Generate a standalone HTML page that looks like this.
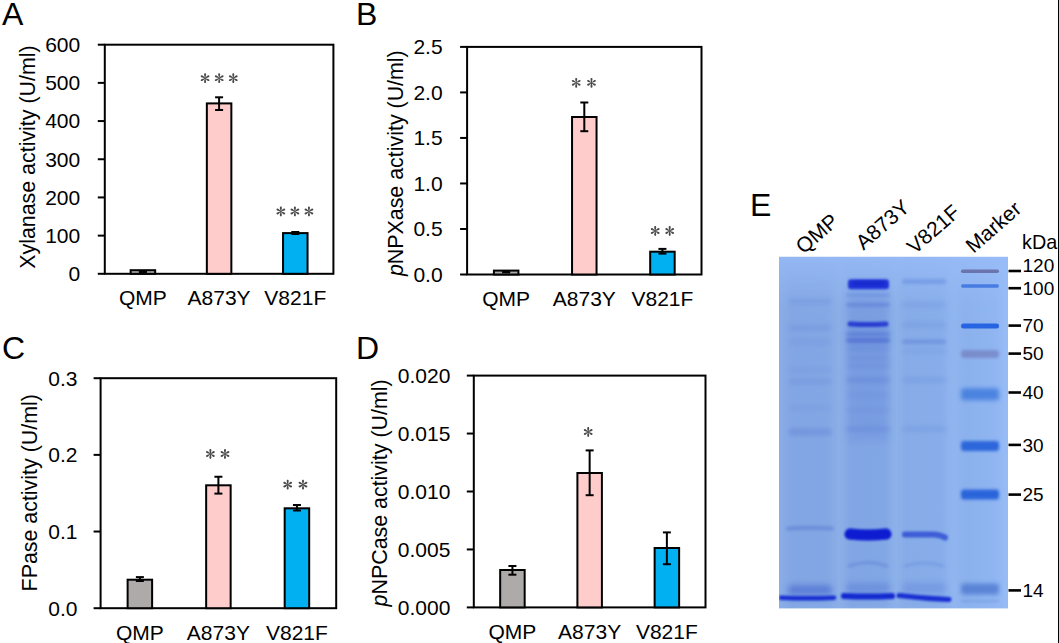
<!DOCTYPE html>
<html><head><meta charset="utf-8"><style>
html,body{margin:0;padding:0;background:#fff;width:1059px;height:643px;overflow:hidden;position:relative}
</style></head><body>
<svg width="1059" height="643" viewBox="0 0 1059 643" style="position:absolute;left:0;top:0">
<rect width="1059" height="643" fill="#fff"/>
<g font-family="'Liberation Sans', sans-serif" font-size="32" fill="#000">
<text x="2" y="24.7">A</text>
<text x="356" y="24.7">B</text>
<text x="2" y="359">C</text>
<text x="356" y="359">D</text>
<text x="750" y="215.5">E</text>
</g>
<g stroke="#000" stroke-width="2.0" fill="none" stroke-linecap="square">
<rect x="104.8" y="44.7" width="228.60" height="229.10"/>
<line x1="97.8" y1="44.70" x2="104.8" y2="44.70" stroke-linecap="butt"/>
<line x1="97.8" y1="82.88" x2="104.8" y2="82.88" stroke-linecap="butt"/>
<line x1="97.8" y1="121.07" x2="104.8" y2="121.07" stroke-linecap="butt"/>
<line x1="97.8" y1="159.25" x2="104.8" y2="159.25" stroke-linecap="butt"/>
<line x1="97.8" y1="197.43" x2="104.8" y2="197.43" stroke-linecap="butt"/>
<line x1="97.8" y1="235.62" x2="104.8" y2="235.62" stroke-linecap="butt"/>
<line x1="97.8" y1="273.80" x2="104.8" y2="273.80" stroke-linecap="butt"/>
</g>
<g font-family="'Liberation Sans', sans-serif" font-size="21" fill="#000" text-anchor="end">
<text x="80.20" y="281.20">0</text>
<text x="80.20" y="243.02">100</text>
<text x="80.20" y="204.83">200</text>
<text x="80.20" y="166.65">300</text>
<text x="80.20" y="128.47">400</text>
<text x="80.20" y="90.28">500</text>
<text x="80.20" y="52.10">600</text>
</g>
<text font-family="'Liberation Sans', sans-serif" font-size="21.4" text-anchor="middle" transform="translate(34.5,157.1) rotate(-90)">Xylanase activity (U/ml)</text>
<rect x="130.65" y="270.20" width="24.5" height="3.60" fill="#AFAAAA" stroke="#000" stroke-width="2"/>
<g stroke="#000" stroke-width="2">
<line x1="142.90" y1="271.00" x2="142.90" y2="272.20"/>
<line x1="138.90" y1="271.00" x2="146.90" y2="271.00"/>
<line x1="138.90" y1="272.20" x2="146.90" y2="272.20"/>
</g>
<text font-family="'Liberation Sans', sans-serif" font-size="21" text-anchor="middle" x="142.90" y="305.30">QMP</text>
<rect x="206.85" y="103.40" width="24.5" height="170.40" fill="#FFCCCC" stroke="#000" stroke-width="2"/>
<g stroke="#000" stroke-width="2">
<line x1="219.10" y1="97.30" x2="219.10" y2="110.00"/>
<line x1="215.10" y1="97.30" x2="223.10" y2="97.30"/>
<line x1="215.10" y1="110.00" x2="223.10" y2="110.00"/>
</g>
<g fill="#4A4A4A">
<path d="M0 -0.35C1.6 -0.5 2.5 -1.0 3.6 -1.0C4.5 -1.0 4.9 -0.55 4.9 0C4.9 0.55 4.5 1.0 3.6 1.0C2.5 1.0 1.6 0.5 0 0.35Z" transform="translate(205.10,78.20) rotate(90)"/><path d="M0 -0.35C1.6 -0.5 2.5 -1.0 3.6 -1.0C4.5 -1.0 4.9 -0.55 4.9 0C4.9 0.55 4.5 1.0 3.6 1.0C2.5 1.0 1.6 0.5 0 0.35Z" transform="translate(205.10,78.20) rotate(30)"/><path d="M0 -0.35C1.6 -0.5 2.5 -1.0 3.6 -1.0C4.5 -1.0 4.9 -0.55 4.9 0C4.9 0.55 4.5 1.0 3.6 1.0C2.5 1.0 1.6 0.5 0 0.35Z" transform="translate(205.10,78.20) rotate(-30)"/><path d="M0 -0.35C1.6 -0.5 2.5 -1.0 3.6 -1.0C4.5 -1.0 4.9 -0.55 4.9 0C4.9 0.55 4.5 1.0 3.6 1.0C2.5 1.0 1.6 0.5 0 0.35Z" transform="translate(205.10,78.20) rotate(-90)"/><path d="M0 -0.35C1.6 -0.5 2.5 -1.0 3.6 -1.0C4.5 -1.0 4.9 -0.55 4.9 0C4.9 0.55 4.5 1.0 3.6 1.0C2.5 1.0 1.6 0.5 0 0.35Z" transform="translate(205.10,78.20) rotate(-150)"/><path d="M0 -0.35C1.6 -0.5 2.5 -1.0 3.6 -1.0C4.5 -1.0 4.9 -0.55 4.9 0C4.9 0.55 4.5 1.0 3.6 1.0C2.5 1.0 1.6 0.5 0 0.35Z" transform="translate(205.10,78.20) rotate(150)"/>
<path d="M0 -0.35C1.6 -0.5 2.5 -1.0 3.6 -1.0C4.5 -1.0 4.9 -0.55 4.9 0C4.9 0.55 4.5 1.0 3.6 1.0C2.5 1.0 1.6 0.5 0 0.35Z" transform="translate(219.20,78.20) rotate(90)"/><path d="M0 -0.35C1.6 -0.5 2.5 -1.0 3.6 -1.0C4.5 -1.0 4.9 -0.55 4.9 0C4.9 0.55 4.5 1.0 3.6 1.0C2.5 1.0 1.6 0.5 0 0.35Z" transform="translate(219.20,78.20) rotate(30)"/><path d="M0 -0.35C1.6 -0.5 2.5 -1.0 3.6 -1.0C4.5 -1.0 4.9 -0.55 4.9 0C4.9 0.55 4.5 1.0 3.6 1.0C2.5 1.0 1.6 0.5 0 0.35Z" transform="translate(219.20,78.20) rotate(-30)"/><path d="M0 -0.35C1.6 -0.5 2.5 -1.0 3.6 -1.0C4.5 -1.0 4.9 -0.55 4.9 0C4.9 0.55 4.5 1.0 3.6 1.0C2.5 1.0 1.6 0.5 0 0.35Z" transform="translate(219.20,78.20) rotate(-90)"/><path d="M0 -0.35C1.6 -0.5 2.5 -1.0 3.6 -1.0C4.5 -1.0 4.9 -0.55 4.9 0C4.9 0.55 4.5 1.0 3.6 1.0C2.5 1.0 1.6 0.5 0 0.35Z" transform="translate(219.20,78.20) rotate(-150)"/><path d="M0 -0.35C1.6 -0.5 2.5 -1.0 3.6 -1.0C4.5 -1.0 4.9 -0.55 4.9 0C4.9 0.55 4.5 1.0 3.6 1.0C2.5 1.0 1.6 0.5 0 0.35Z" transform="translate(219.20,78.20) rotate(150)"/>
<path d="M0 -0.35C1.6 -0.5 2.5 -1.0 3.6 -1.0C4.5 -1.0 4.9 -0.55 4.9 0C4.9 0.55 4.5 1.0 3.6 1.0C2.5 1.0 1.6 0.5 0 0.35Z" transform="translate(233.30,78.20) rotate(90)"/><path d="M0 -0.35C1.6 -0.5 2.5 -1.0 3.6 -1.0C4.5 -1.0 4.9 -0.55 4.9 0C4.9 0.55 4.5 1.0 3.6 1.0C2.5 1.0 1.6 0.5 0 0.35Z" transform="translate(233.30,78.20) rotate(30)"/><path d="M0 -0.35C1.6 -0.5 2.5 -1.0 3.6 -1.0C4.5 -1.0 4.9 -0.55 4.9 0C4.9 0.55 4.5 1.0 3.6 1.0C2.5 1.0 1.6 0.5 0 0.35Z" transform="translate(233.30,78.20) rotate(-30)"/><path d="M0 -0.35C1.6 -0.5 2.5 -1.0 3.6 -1.0C4.5 -1.0 4.9 -0.55 4.9 0C4.9 0.55 4.5 1.0 3.6 1.0C2.5 1.0 1.6 0.5 0 0.35Z" transform="translate(233.30,78.20) rotate(-90)"/><path d="M0 -0.35C1.6 -0.5 2.5 -1.0 3.6 -1.0C4.5 -1.0 4.9 -0.55 4.9 0C4.9 0.55 4.5 1.0 3.6 1.0C2.5 1.0 1.6 0.5 0 0.35Z" transform="translate(233.30,78.20) rotate(-150)"/><path d="M0 -0.35C1.6 -0.5 2.5 -1.0 3.6 -1.0C4.5 -1.0 4.9 -0.55 4.9 0C4.9 0.55 4.5 1.0 3.6 1.0C2.5 1.0 1.6 0.5 0 0.35Z" transform="translate(233.30,78.20) rotate(150)"/>
</g>
<text font-family="'Liberation Sans', sans-serif" font-size="21" text-anchor="middle" x="219.10" y="305.30">A873Y</text>
<rect x="283.05" y="233.10" width="24.5" height="40.70" fill="#00B0F0" stroke="#000" stroke-width="2"/>
<g stroke="#000" stroke-width="2">
<line x1="295.30" y1="232.00" x2="295.30" y2="234.00"/>
<line x1="291.30" y1="232.00" x2="299.30" y2="232.00"/>
<line x1="291.30" y1="234.00" x2="299.30" y2="234.00"/>
</g>
<g fill="#4A4A4A">
<path d="M0 -0.35C1.6 -0.5 2.5 -1.0 3.6 -1.0C4.5 -1.0 4.9 -0.55 4.9 0C4.9 0.55 4.5 1.0 3.6 1.0C2.5 1.0 1.6 0.5 0 0.35Z" transform="translate(280.85,211.50) rotate(90)"/><path d="M0 -0.35C1.6 -0.5 2.5 -1.0 3.6 -1.0C4.5 -1.0 4.9 -0.55 4.9 0C4.9 0.55 4.5 1.0 3.6 1.0C2.5 1.0 1.6 0.5 0 0.35Z" transform="translate(280.85,211.50) rotate(30)"/><path d="M0 -0.35C1.6 -0.5 2.5 -1.0 3.6 -1.0C4.5 -1.0 4.9 -0.55 4.9 0C4.9 0.55 4.5 1.0 3.6 1.0C2.5 1.0 1.6 0.5 0 0.35Z" transform="translate(280.85,211.50) rotate(-30)"/><path d="M0 -0.35C1.6 -0.5 2.5 -1.0 3.6 -1.0C4.5 -1.0 4.9 -0.55 4.9 0C4.9 0.55 4.5 1.0 3.6 1.0C2.5 1.0 1.6 0.5 0 0.35Z" transform="translate(280.85,211.50) rotate(-90)"/><path d="M0 -0.35C1.6 -0.5 2.5 -1.0 3.6 -1.0C4.5 -1.0 4.9 -0.55 4.9 0C4.9 0.55 4.5 1.0 3.6 1.0C2.5 1.0 1.6 0.5 0 0.35Z" transform="translate(280.85,211.50) rotate(-150)"/><path d="M0 -0.35C1.6 -0.5 2.5 -1.0 3.6 -1.0C4.5 -1.0 4.9 -0.55 4.9 0C4.9 0.55 4.5 1.0 3.6 1.0C2.5 1.0 1.6 0.5 0 0.35Z" transform="translate(280.85,211.50) rotate(150)"/>
<path d="M0 -0.35C1.6 -0.5 2.5 -1.0 3.6 -1.0C4.5 -1.0 4.9 -0.55 4.9 0C4.9 0.55 4.5 1.0 3.6 1.0C2.5 1.0 1.6 0.5 0 0.35Z" transform="translate(294.90,211.50) rotate(90)"/><path d="M0 -0.35C1.6 -0.5 2.5 -1.0 3.6 -1.0C4.5 -1.0 4.9 -0.55 4.9 0C4.9 0.55 4.5 1.0 3.6 1.0C2.5 1.0 1.6 0.5 0 0.35Z" transform="translate(294.90,211.50) rotate(30)"/><path d="M0 -0.35C1.6 -0.5 2.5 -1.0 3.6 -1.0C4.5 -1.0 4.9 -0.55 4.9 0C4.9 0.55 4.5 1.0 3.6 1.0C2.5 1.0 1.6 0.5 0 0.35Z" transform="translate(294.90,211.50) rotate(-30)"/><path d="M0 -0.35C1.6 -0.5 2.5 -1.0 3.6 -1.0C4.5 -1.0 4.9 -0.55 4.9 0C4.9 0.55 4.5 1.0 3.6 1.0C2.5 1.0 1.6 0.5 0 0.35Z" transform="translate(294.90,211.50) rotate(-90)"/><path d="M0 -0.35C1.6 -0.5 2.5 -1.0 3.6 -1.0C4.5 -1.0 4.9 -0.55 4.9 0C4.9 0.55 4.5 1.0 3.6 1.0C2.5 1.0 1.6 0.5 0 0.35Z" transform="translate(294.90,211.50) rotate(-150)"/><path d="M0 -0.35C1.6 -0.5 2.5 -1.0 3.6 -1.0C4.5 -1.0 4.9 -0.55 4.9 0C4.9 0.55 4.5 1.0 3.6 1.0C2.5 1.0 1.6 0.5 0 0.35Z" transform="translate(294.90,211.50) rotate(150)"/>
<path d="M0 -0.35C1.6 -0.5 2.5 -1.0 3.6 -1.0C4.5 -1.0 4.9 -0.55 4.9 0C4.9 0.55 4.5 1.0 3.6 1.0C2.5 1.0 1.6 0.5 0 0.35Z" transform="translate(308.95,211.50) rotate(90)"/><path d="M0 -0.35C1.6 -0.5 2.5 -1.0 3.6 -1.0C4.5 -1.0 4.9 -0.55 4.9 0C4.9 0.55 4.5 1.0 3.6 1.0C2.5 1.0 1.6 0.5 0 0.35Z" transform="translate(308.95,211.50) rotate(30)"/><path d="M0 -0.35C1.6 -0.5 2.5 -1.0 3.6 -1.0C4.5 -1.0 4.9 -0.55 4.9 0C4.9 0.55 4.5 1.0 3.6 1.0C2.5 1.0 1.6 0.5 0 0.35Z" transform="translate(308.95,211.50) rotate(-30)"/><path d="M0 -0.35C1.6 -0.5 2.5 -1.0 3.6 -1.0C4.5 -1.0 4.9 -0.55 4.9 0C4.9 0.55 4.5 1.0 3.6 1.0C2.5 1.0 1.6 0.5 0 0.35Z" transform="translate(308.95,211.50) rotate(-90)"/><path d="M0 -0.35C1.6 -0.5 2.5 -1.0 3.6 -1.0C4.5 -1.0 4.9 -0.55 4.9 0C4.9 0.55 4.5 1.0 3.6 1.0C2.5 1.0 1.6 0.5 0 0.35Z" transform="translate(308.95,211.50) rotate(-150)"/><path d="M0 -0.35C1.6 -0.5 2.5 -1.0 3.6 -1.0C4.5 -1.0 4.9 -0.55 4.9 0C4.9 0.55 4.5 1.0 3.6 1.0C2.5 1.0 1.6 0.5 0 0.35Z" transform="translate(308.95,211.50) rotate(150)"/>
</g>
<text font-family="'Liberation Sans', sans-serif" font-size="21" text-anchor="middle" x="295.30" y="305.30">V821F</text>
<g stroke="#000" stroke-width="2.0" fill="none" stroke-linecap="square">
<rect x="467.1" y="46.9" width="234.40" height="227.60"/>
<line x1="460.1" y1="46.90" x2="467.1" y2="46.90" stroke-linecap="butt"/>
<line x1="460.1" y1="92.42" x2="467.1" y2="92.42" stroke-linecap="butt"/>
<line x1="460.1" y1="137.94" x2="467.1" y2="137.94" stroke-linecap="butt"/>
<line x1="460.1" y1="183.46" x2="467.1" y2="183.46" stroke-linecap="butt"/>
<line x1="460.1" y1="228.98" x2="467.1" y2="228.98" stroke-linecap="butt"/>
<line x1="460.1" y1="274.50" x2="467.1" y2="274.50" stroke-linecap="butt"/>
</g>
<g font-family="'Liberation Sans', sans-serif" font-size="21" fill="#000" text-anchor="end">
<text x="442.60" y="281.90">0.0</text>
<text x="442.60" y="236.38">0.5</text>
<text x="442.60" y="190.86">1.0</text>
<text x="442.60" y="145.34">1.5</text>
<text x="442.60" y="99.82">2.0</text>
<text x="442.60" y="54.30">2.5</text>
</g>
<text font-family="'Liberation Sans', sans-serif" font-size="21.4" text-anchor="middle" transform="translate(402.7,163.2) rotate(-90)"><tspan font-style="italic">p</tspan>NPXase activity (U/ml)</text>
<rect x="493.92" y="270.60" width="24.5" height="3.90" fill="#AFAAAA" stroke="#000" stroke-width="2"/>
<g stroke="#000" stroke-width="2">
<line x1="506.17" y1="271.40" x2="506.17" y2="272.40"/>
<line x1="502.17" y1="271.40" x2="510.17" y2="271.40"/>
<line x1="502.17" y1="272.40" x2="510.17" y2="272.40"/>
</g>
<text font-family="'Liberation Sans', sans-serif" font-size="21" text-anchor="middle" x="506.17" y="306.00">QMP</text>
<rect x="572.05" y="117.00" width="24.5" height="157.50" fill="#FFCCCC" stroke="#000" stroke-width="2"/>
<g stroke="#000" stroke-width="2">
<line x1="584.30" y1="102.50" x2="584.30" y2="131.20"/>
<line x1="580.30" y1="102.50" x2="588.30" y2="102.50"/>
<line x1="580.30" y1="131.20" x2="588.30" y2="131.20"/>
</g>
<g fill="#4A4A4A">
<path d="M0 -0.35C1.6 -0.5 2.5 -1.0 3.6 -1.0C4.5 -1.0 4.9 -0.55 4.9 0C4.9 0.55 4.5 1.0 3.6 1.0C2.5 1.0 1.6 0.5 0 0.35Z" transform="translate(576.20,82.80) rotate(90)"/><path d="M0 -0.35C1.6 -0.5 2.5 -1.0 3.6 -1.0C4.5 -1.0 4.9 -0.55 4.9 0C4.9 0.55 4.5 1.0 3.6 1.0C2.5 1.0 1.6 0.5 0 0.35Z" transform="translate(576.20,82.80) rotate(30)"/><path d="M0 -0.35C1.6 -0.5 2.5 -1.0 3.6 -1.0C4.5 -1.0 4.9 -0.55 4.9 0C4.9 0.55 4.5 1.0 3.6 1.0C2.5 1.0 1.6 0.5 0 0.35Z" transform="translate(576.20,82.80) rotate(-30)"/><path d="M0 -0.35C1.6 -0.5 2.5 -1.0 3.6 -1.0C4.5 -1.0 4.9 -0.55 4.9 0C4.9 0.55 4.5 1.0 3.6 1.0C2.5 1.0 1.6 0.5 0 0.35Z" transform="translate(576.20,82.80) rotate(-90)"/><path d="M0 -0.35C1.6 -0.5 2.5 -1.0 3.6 -1.0C4.5 -1.0 4.9 -0.55 4.9 0C4.9 0.55 4.5 1.0 3.6 1.0C2.5 1.0 1.6 0.5 0 0.35Z" transform="translate(576.20,82.80) rotate(-150)"/><path d="M0 -0.35C1.6 -0.5 2.5 -1.0 3.6 -1.0C4.5 -1.0 4.9 -0.55 4.9 0C4.9 0.55 4.5 1.0 3.6 1.0C2.5 1.0 1.6 0.5 0 0.35Z" transform="translate(576.20,82.80) rotate(150)"/>
<path d="M0 -0.35C1.6 -0.5 2.5 -1.0 3.6 -1.0C4.5 -1.0 4.9 -0.55 4.9 0C4.9 0.55 4.5 1.0 3.6 1.0C2.5 1.0 1.6 0.5 0 0.35Z" transform="translate(591.50,82.80) rotate(90)"/><path d="M0 -0.35C1.6 -0.5 2.5 -1.0 3.6 -1.0C4.5 -1.0 4.9 -0.55 4.9 0C4.9 0.55 4.5 1.0 3.6 1.0C2.5 1.0 1.6 0.5 0 0.35Z" transform="translate(591.50,82.80) rotate(30)"/><path d="M0 -0.35C1.6 -0.5 2.5 -1.0 3.6 -1.0C4.5 -1.0 4.9 -0.55 4.9 0C4.9 0.55 4.5 1.0 3.6 1.0C2.5 1.0 1.6 0.5 0 0.35Z" transform="translate(591.50,82.80) rotate(-30)"/><path d="M0 -0.35C1.6 -0.5 2.5 -1.0 3.6 -1.0C4.5 -1.0 4.9 -0.55 4.9 0C4.9 0.55 4.5 1.0 3.6 1.0C2.5 1.0 1.6 0.5 0 0.35Z" transform="translate(591.50,82.80) rotate(-90)"/><path d="M0 -0.35C1.6 -0.5 2.5 -1.0 3.6 -1.0C4.5 -1.0 4.9 -0.55 4.9 0C4.9 0.55 4.5 1.0 3.6 1.0C2.5 1.0 1.6 0.5 0 0.35Z" transform="translate(591.50,82.80) rotate(-150)"/><path d="M0 -0.35C1.6 -0.5 2.5 -1.0 3.6 -1.0C4.5 -1.0 4.9 -0.55 4.9 0C4.9 0.55 4.5 1.0 3.6 1.0C2.5 1.0 1.6 0.5 0 0.35Z" transform="translate(591.50,82.80) rotate(150)"/>
</g>
<text font-family="'Liberation Sans', sans-serif" font-size="21" text-anchor="middle" x="584.30" y="306.00">A873Y</text>
<rect x="650.18" y="251.70" width="24.5" height="22.80" fill="#00B0F0" stroke="#000" stroke-width="2"/>
<g stroke="#000" stroke-width="2">
<line x1="662.43" y1="248.90" x2="662.43" y2="253.60"/>
<line x1="658.43" y1="248.90" x2="666.43" y2="248.90"/>
<line x1="658.43" y1="253.60" x2="666.43" y2="253.60"/>
</g>
<g fill="#4A4A4A">
<path d="M0 -0.35C1.6 -0.5 2.5 -1.0 3.6 -1.0C4.5 -1.0 4.9 -0.55 4.9 0C4.9 0.55 4.5 1.0 3.6 1.0C2.5 1.0 1.6 0.5 0 0.35Z" transform="translate(655.20,231.00) rotate(90)"/><path d="M0 -0.35C1.6 -0.5 2.5 -1.0 3.6 -1.0C4.5 -1.0 4.9 -0.55 4.9 0C4.9 0.55 4.5 1.0 3.6 1.0C2.5 1.0 1.6 0.5 0 0.35Z" transform="translate(655.20,231.00) rotate(30)"/><path d="M0 -0.35C1.6 -0.5 2.5 -1.0 3.6 -1.0C4.5 -1.0 4.9 -0.55 4.9 0C4.9 0.55 4.5 1.0 3.6 1.0C2.5 1.0 1.6 0.5 0 0.35Z" transform="translate(655.20,231.00) rotate(-30)"/><path d="M0 -0.35C1.6 -0.5 2.5 -1.0 3.6 -1.0C4.5 -1.0 4.9 -0.55 4.9 0C4.9 0.55 4.5 1.0 3.6 1.0C2.5 1.0 1.6 0.5 0 0.35Z" transform="translate(655.20,231.00) rotate(-90)"/><path d="M0 -0.35C1.6 -0.5 2.5 -1.0 3.6 -1.0C4.5 -1.0 4.9 -0.55 4.9 0C4.9 0.55 4.5 1.0 3.6 1.0C2.5 1.0 1.6 0.5 0 0.35Z" transform="translate(655.20,231.00) rotate(-150)"/><path d="M0 -0.35C1.6 -0.5 2.5 -1.0 3.6 -1.0C4.5 -1.0 4.9 -0.55 4.9 0C4.9 0.55 4.5 1.0 3.6 1.0C2.5 1.0 1.6 0.5 0 0.35Z" transform="translate(655.20,231.00) rotate(150)"/>
<path d="M0 -0.35C1.6 -0.5 2.5 -1.0 3.6 -1.0C4.5 -1.0 4.9 -0.55 4.9 0C4.9 0.55 4.5 1.0 3.6 1.0C2.5 1.0 1.6 0.5 0 0.35Z" transform="translate(669.70,231.00) rotate(90)"/><path d="M0 -0.35C1.6 -0.5 2.5 -1.0 3.6 -1.0C4.5 -1.0 4.9 -0.55 4.9 0C4.9 0.55 4.5 1.0 3.6 1.0C2.5 1.0 1.6 0.5 0 0.35Z" transform="translate(669.70,231.00) rotate(30)"/><path d="M0 -0.35C1.6 -0.5 2.5 -1.0 3.6 -1.0C4.5 -1.0 4.9 -0.55 4.9 0C4.9 0.55 4.5 1.0 3.6 1.0C2.5 1.0 1.6 0.5 0 0.35Z" transform="translate(669.70,231.00) rotate(-30)"/><path d="M0 -0.35C1.6 -0.5 2.5 -1.0 3.6 -1.0C4.5 -1.0 4.9 -0.55 4.9 0C4.9 0.55 4.5 1.0 3.6 1.0C2.5 1.0 1.6 0.5 0 0.35Z" transform="translate(669.70,231.00) rotate(-90)"/><path d="M0 -0.35C1.6 -0.5 2.5 -1.0 3.6 -1.0C4.5 -1.0 4.9 -0.55 4.9 0C4.9 0.55 4.5 1.0 3.6 1.0C2.5 1.0 1.6 0.5 0 0.35Z" transform="translate(669.70,231.00) rotate(-150)"/><path d="M0 -0.35C1.6 -0.5 2.5 -1.0 3.6 -1.0C4.5 -1.0 4.9 -0.55 4.9 0C4.9 0.55 4.5 1.0 3.6 1.0C2.5 1.0 1.6 0.5 0 0.35Z" transform="translate(669.70,231.00) rotate(150)"/>
</g>
<text font-family="'Liberation Sans', sans-serif" font-size="21" text-anchor="middle" x="662.43" y="306.00">V821F</text>
<g stroke="#000" stroke-width="2.0" fill="none" stroke-linecap="square">
<rect x="100.6" y="378.2" width="235.60" height="230.00"/>
<line x1="93.6" y1="378.20" x2="100.6" y2="378.20" stroke-linecap="butt"/>
<line x1="93.6" y1="454.87" x2="100.6" y2="454.87" stroke-linecap="butt"/>
<line x1="93.6" y1="531.53" x2="100.6" y2="531.53" stroke-linecap="butt"/>
<line x1="93.6" y1="608.20" x2="100.6" y2="608.20" stroke-linecap="butt"/>
</g>
<g font-family="'Liberation Sans', sans-serif" font-size="21" fill="#000" text-anchor="end">
<text x="77.50" y="615.60">0.0</text>
<text x="77.50" y="538.93">0.1</text>
<text x="77.50" y="462.27">0.2</text>
<text x="77.50" y="385.60">0.3</text>
</g>
<text font-family="'Liberation Sans', sans-serif" font-size="21.4" text-anchor="middle" transform="translate(37.2,492.8) rotate(-90)">FPase activity (U/ml)</text>
<rect x="127.62" y="579.70" width="24.5" height="28.50" fill="#AFAAAA" stroke="#000" stroke-width="2"/>
<g stroke="#000" stroke-width="2">
<line x1="139.87" y1="577.10" x2="139.87" y2="581.00"/>
<line x1="135.87" y1="577.10" x2="143.87" y2="577.10"/>
<line x1="135.87" y1="581.00" x2="143.87" y2="581.00"/>
</g>
<text font-family="'Liberation Sans', sans-serif" font-size="21" text-anchor="middle" x="139.87" y="639.70">QMP</text>
<rect x="206.15" y="485.30" width="24.5" height="122.90" fill="#FFCCCC" stroke="#000" stroke-width="2"/>
<g stroke="#000" stroke-width="2">
<line x1="218.40" y1="476.75" x2="218.40" y2="493.60"/>
<line x1="214.40" y1="476.75" x2="222.40" y2="476.75"/>
<line x1="214.40" y1="493.60" x2="222.40" y2="493.60"/>
</g>
<g fill="#4A4A4A">
<path d="M0 -0.35C1.6 -0.5 2.5 -1.0 3.6 -1.0C4.5 -1.0 4.9 -0.55 4.9 0C4.9 0.55 4.5 1.0 3.6 1.0C2.5 1.0 1.6 0.5 0 0.35Z" transform="translate(210.40,454.00) rotate(90)"/><path d="M0 -0.35C1.6 -0.5 2.5 -1.0 3.6 -1.0C4.5 -1.0 4.9 -0.55 4.9 0C4.9 0.55 4.5 1.0 3.6 1.0C2.5 1.0 1.6 0.5 0 0.35Z" transform="translate(210.40,454.00) rotate(30)"/><path d="M0 -0.35C1.6 -0.5 2.5 -1.0 3.6 -1.0C4.5 -1.0 4.9 -0.55 4.9 0C4.9 0.55 4.5 1.0 3.6 1.0C2.5 1.0 1.6 0.5 0 0.35Z" transform="translate(210.40,454.00) rotate(-30)"/><path d="M0 -0.35C1.6 -0.5 2.5 -1.0 3.6 -1.0C4.5 -1.0 4.9 -0.55 4.9 0C4.9 0.55 4.5 1.0 3.6 1.0C2.5 1.0 1.6 0.5 0 0.35Z" transform="translate(210.40,454.00) rotate(-90)"/><path d="M0 -0.35C1.6 -0.5 2.5 -1.0 3.6 -1.0C4.5 -1.0 4.9 -0.55 4.9 0C4.9 0.55 4.5 1.0 3.6 1.0C2.5 1.0 1.6 0.5 0 0.35Z" transform="translate(210.40,454.00) rotate(-150)"/><path d="M0 -0.35C1.6 -0.5 2.5 -1.0 3.6 -1.0C4.5 -1.0 4.9 -0.55 4.9 0C4.9 0.55 4.5 1.0 3.6 1.0C2.5 1.0 1.6 0.5 0 0.35Z" transform="translate(210.40,454.00) rotate(150)"/>
<path d="M0 -0.35C1.6 -0.5 2.5 -1.0 3.6 -1.0C4.5 -1.0 4.9 -0.55 4.9 0C4.9 0.55 4.5 1.0 3.6 1.0C2.5 1.0 1.6 0.5 0 0.35Z" transform="translate(225.00,454.00) rotate(90)"/><path d="M0 -0.35C1.6 -0.5 2.5 -1.0 3.6 -1.0C4.5 -1.0 4.9 -0.55 4.9 0C4.9 0.55 4.5 1.0 3.6 1.0C2.5 1.0 1.6 0.5 0 0.35Z" transform="translate(225.00,454.00) rotate(30)"/><path d="M0 -0.35C1.6 -0.5 2.5 -1.0 3.6 -1.0C4.5 -1.0 4.9 -0.55 4.9 0C4.9 0.55 4.5 1.0 3.6 1.0C2.5 1.0 1.6 0.5 0 0.35Z" transform="translate(225.00,454.00) rotate(-30)"/><path d="M0 -0.35C1.6 -0.5 2.5 -1.0 3.6 -1.0C4.5 -1.0 4.9 -0.55 4.9 0C4.9 0.55 4.5 1.0 3.6 1.0C2.5 1.0 1.6 0.5 0 0.35Z" transform="translate(225.00,454.00) rotate(-90)"/><path d="M0 -0.35C1.6 -0.5 2.5 -1.0 3.6 -1.0C4.5 -1.0 4.9 -0.55 4.9 0C4.9 0.55 4.5 1.0 3.6 1.0C2.5 1.0 1.6 0.5 0 0.35Z" transform="translate(225.00,454.00) rotate(-150)"/><path d="M0 -0.35C1.6 -0.5 2.5 -1.0 3.6 -1.0C4.5 -1.0 4.9 -0.55 4.9 0C4.9 0.55 4.5 1.0 3.6 1.0C2.5 1.0 1.6 0.5 0 0.35Z" transform="translate(225.00,454.00) rotate(150)"/>
</g>
<text font-family="'Liberation Sans', sans-serif" font-size="21" text-anchor="middle" x="218.40" y="639.70">A873Y</text>
<rect x="284.68" y="508.30" width="24.5" height="99.90" fill="#00B0F0" stroke="#000" stroke-width="2"/>
<g stroke="#000" stroke-width="2">
<line x1="296.93" y1="505.00" x2="296.93" y2="510.50"/>
<line x1="292.93" y1="505.00" x2="300.93" y2="505.00"/>
<line x1="292.93" y1="510.50" x2="300.93" y2="510.50"/>
</g>
<g fill="#4A4A4A">
<path d="M0 -0.35C1.6 -0.5 2.5 -1.0 3.6 -1.0C4.5 -1.0 4.9 -0.55 4.9 0C4.9 0.55 4.5 1.0 3.6 1.0C2.5 1.0 1.6 0.5 0 0.35Z" transform="translate(287.70,484.65) rotate(90)"/><path d="M0 -0.35C1.6 -0.5 2.5 -1.0 3.6 -1.0C4.5 -1.0 4.9 -0.55 4.9 0C4.9 0.55 4.5 1.0 3.6 1.0C2.5 1.0 1.6 0.5 0 0.35Z" transform="translate(287.70,484.65) rotate(30)"/><path d="M0 -0.35C1.6 -0.5 2.5 -1.0 3.6 -1.0C4.5 -1.0 4.9 -0.55 4.9 0C4.9 0.55 4.5 1.0 3.6 1.0C2.5 1.0 1.6 0.5 0 0.35Z" transform="translate(287.70,484.65) rotate(-30)"/><path d="M0 -0.35C1.6 -0.5 2.5 -1.0 3.6 -1.0C4.5 -1.0 4.9 -0.55 4.9 0C4.9 0.55 4.5 1.0 3.6 1.0C2.5 1.0 1.6 0.5 0 0.35Z" transform="translate(287.70,484.65) rotate(-90)"/><path d="M0 -0.35C1.6 -0.5 2.5 -1.0 3.6 -1.0C4.5 -1.0 4.9 -0.55 4.9 0C4.9 0.55 4.5 1.0 3.6 1.0C2.5 1.0 1.6 0.5 0 0.35Z" transform="translate(287.70,484.65) rotate(-150)"/><path d="M0 -0.35C1.6 -0.5 2.5 -1.0 3.6 -1.0C4.5 -1.0 4.9 -0.55 4.9 0C4.9 0.55 4.5 1.0 3.6 1.0C2.5 1.0 1.6 0.5 0 0.35Z" transform="translate(287.70,484.65) rotate(150)"/>
<path d="M0 -0.35C1.6 -0.5 2.5 -1.0 3.6 -1.0C4.5 -1.0 4.9 -0.55 4.9 0C4.9 0.55 4.5 1.0 3.6 1.0C2.5 1.0 1.6 0.5 0 0.35Z" transform="translate(303.00,484.65) rotate(90)"/><path d="M0 -0.35C1.6 -0.5 2.5 -1.0 3.6 -1.0C4.5 -1.0 4.9 -0.55 4.9 0C4.9 0.55 4.5 1.0 3.6 1.0C2.5 1.0 1.6 0.5 0 0.35Z" transform="translate(303.00,484.65) rotate(30)"/><path d="M0 -0.35C1.6 -0.5 2.5 -1.0 3.6 -1.0C4.5 -1.0 4.9 -0.55 4.9 0C4.9 0.55 4.5 1.0 3.6 1.0C2.5 1.0 1.6 0.5 0 0.35Z" transform="translate(303.00,484.65) rotate(-30)"/><path d="M0 -0.35C1.6 -0.5 2.5 -1.0 3.6 -1.0C4.5 -1.0 4.9 -0.55 4.9 0C4.9 0.55 4.5 1.0 3.6 1.0C2.5 1.0 1.6 0.5 0 0.35Z" transform="translate(303.00,484.65) rotate(-90)"/><path d="M0 -0.35C1.6 -0.5 2.5 -1.0 3.6 -1.0C4.5 -1.0 4.9 -0.55 4.9 0C4.9 0.55 4.5 1.0 3.6 1.0C2.5 1.0 1.6 0.5 0 0.35Z" transform="translate(303.00,484.65) rotate(-150)"/><path d="M0 -0.35C1.6 -0.5 2.5 -1.0 3.6 -1.0C4.5 -1.0 4.9 -0.55 4.9 0C4.9 0.55 4.5 1.0 3.6 1.0C2.5 1.0 1.6 0.5 0 0.35Z" transform="translate(303.00,484.65) rotate(150)"/>
</g>
<text font-family="'Liberation Sans', sans-serif" font-size="21" text-anchor="middle" x="296.93" y="639.70">V821F</text>
<g stroke="#000" stroke-width="2.0" fill="none" stroke-linecap="square">
<rect x="473.8" y="375.6" width="231.70" height="231.80"/>
<line x1="466.8" y1="375.60" x2="473.8" y2="375.60" stroke-linecap="butt"/>
<line x1="466.8" y1="433.55" x2="473.8" y2="433.55" stroke-linecap="butt"/>
<line x1="466.8" y1="491.50" x2="473.8" y2="491.50" stroke-linecap="butt"/>
<line x1="466.8" y1="549.45" x2="473.8" y2="549.45" stroke-linecap="butt"/>
<line x1="466.8" y1="607.40" x2="473.8" y2="607.40" stroke-linecap="butt"/>
</g>
<g font-family="'Liberation Sans', sans-serif" font-size="21" fill="#000" text-anchor="end">
<text x="450.40" y="614.80">0.000</text>
<text x="450.40" y="556.85">0.005</text>
<text x="450.40" y="498.90">0.010</text>
<text x="450.40" y="440.95">0.015</text>
<text x="450.40" y="383.00">0.020</text>
</g>
<text font-family="'Liberation Sans', sans-serif" font-size="21.4" text-anchor="middle" transform="translate(387.2,492.9) rotate(-90)"><tspan font-style="italic">p</tspan>NPCase activity (U/ml)</text>
<rect x="500.17" y="570.00" width="24.5" height="37.40" fill="#AFAAAA" stroke="#000" stroke-width="2"/>
<g stroke="#000" stroke-width="2">
<line x1="512.42" y1="566.00" x2="512.42" y2="574.70"/>
<line x1="508.42" y1="566.00" x2="516.42" y2="566.00"/>
<line x1="508.42" y1="574.70" x2="516.42" y2="574.70"/>
</g>
<text font-family="'Liberation Sans', sans-serif" font-size="21" text-anchor="middle" x="512.42" y="638.90">QMP</text>
<rect x="577.40" y="473.00" width="24.5" height="134.40" fill="#FFCCCC" stroke="#000" stroke-width="2"/>
<g stroke="#000" stroke-width="2">
<line x1="589.65" y1="450.40" x2="589.65" y2="495.20"/>
<line x1="585.65" y1="450.40" x2="593.65" y2="450.40"/>
<line x1="585.65" y1="495.20" x2="593.65" y2="495.20"/>
</g>
<g fill="#4A4A4A">
<path d="M0 -0.35C1.6 -0.5 2.5 -1.0 3.6 -1.0C4.5 -1.0 4.9 -0.55 4.9 0C4.9 0.55 4.5 1.0 3.6 1.0C2.5 1.0 1.6 0.5 0 0.35Z" transform="translate(588.20,432.00) rotate(90)"/><path d="M0 -0.35C1.6 -0.5 2.5 -1.0 3.6 -1.0C4.5 -1.0 4.9 -0.55 4.9 0C4.9 0.55 4.5 1.0 3.6 1.0C2.5 1.0 1.6 0.5 0 0.35Z" transform="translate(588.20,432.00) rotate(30)"/><path d="M0 -0.35C1.6 -0.5 2.5 -1.0 3.6 -1.0C4.5 -1.0 4.9 -0.55 4.9 0C4.9 0.55 4.5 1.0 3.6 1.0C2.5 1.0 1.6 0.5 0 0.35Z" transform="translate(588.20,432.00) rotate(-30)"/><path d="M0 -0.35C1.6 -0.5 2.5 -1.0 3.6 -1.0C4.5 -1.0 4.9 -0.55 4.9 0C4.9 0.55 4.5 1.0 3.6 1.0C2.5 1.0 1.6 0.5 0 0.35Z" transform="translate(588.20,432.00) rotate(-90)"/><path d="M0 -0.35C1.6 -0.5 2.5 -1.0 3.6 -1.0C4.5 -1.0 4.9 -0.55 4.9 0C4.9 0.55 4.5 1.0 3.6 1.0C2.5 1.0 1.6 0.5 0 0.35Z" transform="translate(588.20,432.00) rotate(-150)"/><path d="M0 -0.35C1.6 -0.5 2.5 -1.0 3.6 -1.0C4.5 -1.0 4.9 -0.55 4.9 0C4.9 0.55 4.5 1.0 3.6 1.0C2.5 1.0 1.6 0.5 0 0.35Z" transform="translate(588.20,432.00) rotate(150)"/>
</g>
<text font-family="'Liberation Sans', sans-serif" font-size="21" text-anchor="middle" x="589.65" y="638.90">A873Y</text>
<rect x="654.63" y="548.00" width="24.5" height="59.40" fill="#00B0F0" stroke="#000" stroke-width="2"/>
<g stroke="#000" stroke-width="2">
<line x1="666.88" y1="532.40" x2="666.88" y2="564.20"/>
<line x1="662.88" y1="532.40" x2="670.88" y2="532.40"/>
<line x1="662.88" y1="564.20" x2="670.88" y2="564.20"/>
</g>
<text font-family="'Liberation Sans', sans-serif" font-size="21" text-anchor="middle" x="666.88" y="638.90">V821F</text>
<defs>
<filter id="b05" filterUnits="userSpaceOnUse" x="0" y="0" width="1059" height="643"><feGaussianBlur stdDeviation="0.6"/></filter>
<filter id="b1" filterUnits="userSpaceOnUse" x="0" y="0" width="1059" height="643"><feGaussianBlur stdDeviation="1.0"/></filter>
<filter id="b15" filterUnits="userSpaceOnUse" x="0" y="0" width="1059" height="643"><feGaussianBlur stdDeviation="1.5"/></filter>
<filter id="b2" filterUnits="userSpaceOnUse" x="0" y="0" width="1059" height="643"><feGaussianBlur stdDeviation="2.0"/></filter>
<filter id="b3" filterUnits="userSpaceOnUse" x="0" y="0" width="1059" height="643"><feGaussianBlur stdDeviation="3.0"/></filter>
<filter id="b4" filterUnits="userSpaceOnUse" x="0" y="0" width="1059" height="643"><feGaussianBlur stdDeviation="4.0"/></filter>
<linearGradient id="gbg" x1="0" y1="0" x2="1" y2="0"><stop offset="0" stop-color="#89ACE6"/><stop offset="0.45" stop-color="#8CB0E8"/><stop offset="0.8" stop-color="#90B5EF"/><stop offset="1" stop-color="#96BBF5"/></linearGradient>
<linearGradient id="lanet" x1="0" y1="0" x2="0" y2="1"><stop offset="0" stop-color="#4670D0" stop-opacity="0"/><stop offset="0.08" stop-color="#4670D0" stop-opacity="0.6"/><stop offset="0.2" stop-color="#4670D0" stop-opacity="1"/><stop offset="1" stop-color="#4670D0" stop-opacity="1"/></linearGradient>
<linearGradient id="topl" x1="0" y1="0" x2="0" y2="1"><stop offset="0" stop-color="#98BCF8" stop-opacity="0.7"/><stop offset="0.5" stop-color="#98BCF8" stop-opacity="0.35"/><stop offset="1" stop-color="#98BCF8" stop-opacity="0"/></linearGradient>
<clipPath id="gclip"><rect x="779.0" y="256.8" width="229.0" height="351.59999999999997"/></clipPath>
</defs>
<rect x="779.0" y="256.8" width="229.0" height="351.59999999999997" fill="url(#gbg)"/>
<g clip-path="url(#gclip)">
<rect x="788" y="256.8" width="44" height="351.59999999999997" fill="url(#lanet)" opacity="0.1" filter="url(#b3)"/>
<rect x="846" y="256.8" width="44" height="351.59999999999997" fill="url(#lanet)" opacity="0.13" filter="url(#b3)"/>
<rect x="902" y="256.8" width="44" height="351.59999999999997" fill="url(#lanet)" opacity="0.09" filter="url(#b3)"/>
<rect x="961" y="256.8" width="38" height="351.59999999999997" fill="url(#lanet)" opacity="0.05" filter="url(#b3)"/>
<rect x="848" y="292" width="40" height="150" fill="#3A58C8" opacity="0.12" filter="url(#b4)"/>
<rect x="779.0" y="256.8" width="229.0" height="50" fill="url(#topl)"/>
<rect x="961" y="269.6" width="38" height="3.5" rx="1.75" fill="#5A5890" opacity="0.7" filter="url(#b05)"/>
<rect x="961" y="284.2" width="38" height="3.5" rx="1.75" fill="#2F6ADC" opacity="0.75" filter="url(#b05)"/>
<rect x="961" y="323.5" width="38" height="5" rx="2.5" fill="#1C5CE0" opacity="0.9" filter="url(#b05)"/>
<rect x="961" y="350.0" width="38" height="8" rx="3" fill="#6C70B0" opacity="0.55" filter="url(#b15)"/>
<rect x="961" y="388.2" width="38" height="12" rx="3" fill="#3A78DC" opacity="0.8" filter="url(#b2)"/>
<rect x="961" y="441.0" width="38" height="10" rx="3" fill="#1E5AD8" opacity="0.85" filter="url(#b15)"/>
<rect x="961" y="489.4" width="38" height="10" rx="3" fill="#1E5AD8" opacity="0.88" filter="url(#b15)"/>
<rect x="961" y="583.5" width="38" height="11" rx="3" fill="#3A68C8" opacity="0.62" filter="url(#b2)"/>
<rect x="961" y="600.0" width="38" height="2" rx="1.0" fill="#5A80D0" opacity="0.3" filter="url(#b1)"/>
<rect x="848" y="279.3" width="41" height="10" rx="3" fill="#1A2ED8" opacity="0.95" filter="url(#b1)"/>
<rect x="852" y="281.0" width="33" height="5" rx="2.5" fill="#1020C8" opacity="0.5" filter="url(#b1)"/>
<rect x="846" y="293.5" width="44" height="3" rx="1.5" fill="#3050C8" opacity="0.2" filter="url(#b15)"/>
<rect x="846" y="302.7" width="44" height="4" rx="2.0" fill="#3050C8" opacity="0.25" filter="url(#b15)"/>
<path d="M850 324 Q868.0 325 886 324" stroke="#1A2ED0" stroke-width="5" fill="none" stroke-linecap="round" opacity="0.85" filter="url(#b1)"/>
<rect x="846" y="332.5" width="44" height="3" rx="1.5" fill="#3050C8" opacity="0.25" filter="url(#b15)"/>
<rect x="846" y="338.1" width="44" height="5" rx="2.5" fill="#2840C0" opacity="0.3" filter="url(#b15)"/>
<rect x="846" y="330.0" width="44" height="14" rx="3" fill="#3050C8" opacity="0.15" filter="url(#b3)"/>
<rect x="846" y="346.5" width="44" height="5" rx="2.5" fill="#3A58C8" opacity="0.16" filter="url(#b2)"/>
<rect x="846" y="355.5" width="44" height="5" rx="2.5" fill="#3A58C8" opacity="0.12" filter="url(#b2)"/>
<rect x="846" y="363.5" width="44" height="5" rx="2.5" fill="#3A58C8" opacity="0.12" filter="url(#b2)"/>
<rect x="846" y="377.5" width="44" height="5" rx="2.5" fill="#3A58C8" opacity="0.2" filter="url(#b2)"/>
<rect x="846" y="392.5" width="44" height="5" rx="2.5" fill="#3A58C8" opacity="0.08" filter="url(#b2)"/>
<rect x="846" y="407.5" width="44" height="5" rx="2.5" fill="#3A58C8" opacity="0.07" filter="url(#b2)"/>
<rect x="846" y="426.5" width="44" height="5" rx="2.5" fill="#3A58C8" opacity="0.16" filter="url(#b2)"/>
<path d="M850 534 Q868.0 536 886 534" stroke="#0A1CD0" stroke-width="11" fill="none" stroke-linecap="round" opacity="1.0" filter="url(#b1)"/>
<path d="M849 566 Q868.0 559 887 566" stroke="#4060C8" stroke-width="3" fill="none" stroke-linecap="round" opacity="0.3" filter="url(#b15)"/>
<path d="M844 596 Q868.0 597 892 596" stroke="#0A24D0" stroke-width="6" fill="none" stroke-linecap="round" opacity="0.95" filter="url(#b1)"/>
<rect x="846" y="583.0" width="44" height="10" rx="3" fill="#3050C8" opacity="0.25" filter="url(#b3)"/>
<rect x="902" y="279.0" width="44" height="5" rx="2.5" fill="#5078D8" opacity="0.35" filter="url(#b15)"/>
<rect x="902" y="301.9" width="44" height="5" rx="2.5" fill="#4060C8" opacity="0.12" filter="url(#b2)"/>
<rect x="902" y="322.5" width="44" height="5" rx="2.5" fill="#4060C8" opacity="0.12" filter="url(#b2)"/>
<rect x="902" y="348.5" width="44" height="5" rx="2.5" fill="#4060C8" opacity="0.08" filter="url(#b2)"/>
<rect x="902" y="377.5" width="44" height="5" rx="2.5" fill="#4060C8" opacity="0.14" filter="url(#b2)"/>
<rect x="902" y="426.5" width="44" height="5" rx="2.5" fill="#4060C8" opacity="0.14" filter="url(#b2)"/>
<rect x="902" y="339.2" width="44" height="5" rx="2.5" fill="#3050C0" opacity="0.22" filter="url(#b15)"/>
<path d="M905 534.5 L934 534.5 Q941 535 945 537.5" stroke="#2040D0" stroke-width="6" fill="none" stroke-linecap="round" opacity="0.72" filter="url(#b1)"/>
<path d="M905 566 Q924.0 560 943 566" stroke="#4060C8" stroke-width="2.5" fill="none" stroke-linecap="round" opacity="0.22" filter="url(#b15)"/>
<path d="M899 595.5 Q924.0 598.5 949 599.5" stroke="#0A24D0" stroke-width="5" fill="none" stroke-linecap="round" opacity="0.9" filter="url(#b1)"/>
<rect x="902" y="583.0" width="44" height="10" rx="3" fill="#3050C8" opacity="0.2" filter="url(#b3)"/>
<rect x="788" y="298.8" width="44" height="5" rx="2.5" fill="#4060C8" opacity="0.14" filter="url(#b2)"/>
<rect x="788" y="325.3" width="44" height="5" rx="2.5" fill="#4060C8" opacity="0.14" filter="url(#b2)"/>
<rect x="788" y="339.5" width="44" height="5" rx="2.5" fill="#4060C8" opacity="0.1" filter="url(#b2)"/>
<rect x="788" y="367.5" width="44" height="5" rx="2.5" fill="#4060C8" opacity="0.08" filter="url(#b2)"/>
<rect x="788" y="379.1" width="44" height="5" rx="2.5" fill="#4060C8" opacity="0.14" filter="url(#b2)"/>
<rect x="788" y="405.2" width="44" height="5" rx="2.5" fill="#4060C8" opacity="0.08" filter="url(#b2)"/>
<rect x="788" y="429.5" width="44" height="5" rx="2.5" fill="#4060C8" opacity="0.0" filter="url(#b2)"/>
<path d="M788 528.5 Q810.0 527.0 832 528.5" stroke="#4060C8" stroke-width="4" fill="none" stroke-linecap="round" opacity="0.35" filter="url(#b15)"/>
<rect x="788" y="428.5" width="44" height="7" rx="3" fill="#4060C8" opacity="0.22" filter="url(#b2)"/>
<rect x="788" y="585.5" width="44" height="9" rx="3" fill="#3050C8" opacity="0.5" filter="url(#b3)"/>
<path d="M781 597.7 Q807.5 598.7 834 597.7" stroke="#0A24D0" stroke-width="4.5" fill="none" stroke-linecap="round" opacity="0.9" filter="url(#b1)"/>
</g>
<g font-family="'Liberation Sans', sans-serif" font-size="21" fill="#000">
<text transform="translate(803.6,254.8) rotate(-41)">QMP</text>
<text transform="translate(863.4,250.8) rotate(-41)">A873Y</text>
<text transform="translate(914.8,254.9) rotate(-41)">V821F</text>
<text transform="translate(973.4,253.9) rotate(-41)">Marker</text>
</g>
<g font-family="'Liberation Sans', sans-serif" font-size="19" fill="#000">
<text x="1022" y="248.9" font-size="19.8">kDa</text>
<text x="1022.5" y="271.9">120</text>
<text x="1022.5" y="295.2">100</text>
<text x="1022.5" y="332.3">70</text>
<text x="1022.5" y="360.3">50</text>
<text x="1022.5" y="399.2">40</text>
<text x="1022.5" y="451.6">30</text>
<text x="1022.5" y="501.3">25</text>
<text x="1022.5" y="597.1">14</text>
</g>
<g stroke="#000" stroke-width="2.6">
<line x1="1008.5" y1="271" x2="1021" y2="271"/>
<line x1="1008.5" y1="288.2" x2="1021" y2="288.2"/>
<line x1="1008.5" y1="325.6" x2="1021" y2="325.6"/>
<line x1="1008.5" y1="353.6" x2="1021" y2="353.6"/>
<line x1="1008.5" y1="392.5" x2="1021" y2="392.5"/>
<line x1="1008.5" y1="444.9" x2="1021" y2="444.9"/>
<line x1="1008.5" y1="494.6" x2="1021" y2="494.6"/>
<line x1="1008.5" y1="590.4" x2="1021" y2="590.4"/>
</g>
<rect x="1058" y="0" width="1" height="643" fill="#000"/>
</svg>
</body></html>
